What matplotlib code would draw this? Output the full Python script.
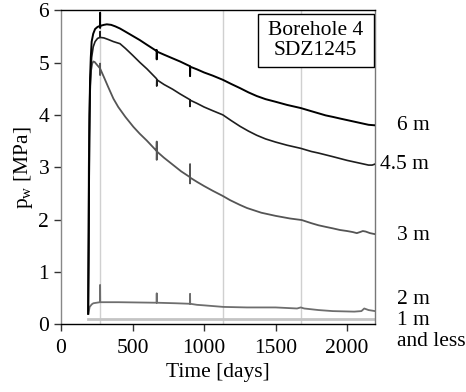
import matplotlib
matplotlib.use("Agg")
import matplotlib.pyplot as plt
from matplotlib.patches import Rectangle

plt.rcParams['font.family'] = ['Liberation Serif', 'DejaVu Serif']
plt.rcParams['mathtext.fontset'] = 'custom'
plt.rcParams['mathtext.rm'] = 'Liberation Serif'
plt.rcParams['mathtext.it'] = 'Liberation Serif:italic'

# ---- data (days, MPa) ----
days_6m = [190, 193, 196, 199, 203, 208, 214, 225, 238, 255, 272, 273, 273, 274, 300, 320, 350, 380, 412, 450,
           500, 550, 600, 668, 669, 669, 670, 720, 780, 832, 901, 902, 902, 903, 950, 1000, 1060, 1131, 1190,
           1252, 1310, 1368, 1430, 1500, 1580, 1676, 1750, 1800, 1850, 1902, 1950, 2000, 2050, 2100, 2150, 2196]
p_6m = [0.2, 1.5, 3.0, 4.0, 4.7, 5.1, 5.40, 5.55, 5.64, 5.68, 5.70, 5.95, 5.66, 5.70, 5.72, 5.73, 5.72, 5.69, 5.65, 5.59,
        5.51, 5.43, 5.34, 5.22, 5.24, 5.06, 5.21, 5.15, 5.08, 5.02, 4.93, 4.93, 4.74, 4.92, 4.87, 4.81, 4.75, 4.67, 4.59,
        4.51, 4.43, 4.36, 4.30, 4.25, 4.19, 4.13, 4.07, 4.03, 3.99, 3.96, 3.93, 3.90, 3.87, 3.84, 3.81, 3.80]

days_45m = [190, 193, 196, 199, 203, 208, 214, 225, 238, 255, 272, 273, 273, 274, 300, 330, 366, 412, 450, 500,
            552, 600, 668, 669, 669, 670, 720, 780, 832, 901, 902, 902, 903, 950, 1000, 1060, 1131, 1190, 1252,
            1310, 1368, 1430, 1500, 1580, 1676, 1750, 1800, 1902, 2000, 2050, 2100, 2150, 2175, 2196]
p_45m = [0.2, 1.2, 2.5, 3.6, 4.4, 4.85, 5.10, 5.30, 5.40, 5.46, 5.48, 5.59, 5.48, 5.48, 5.47, 5.44, 5.40, 5.36, 5.27, 5.14,
         5.00, 4.88, 4.69, 4.68, 4.55, 4.67, 4.58, 4.49, 4.40, 4.29, 4.28, 4.16, 4.28, 4.22, 4.15, 4.08, 4.00, 3.89, 3.78,
         3.69, 3.61, 3.54, 3.48, 3.42, 3.36, 3.30, 3.27, 3.20, 3.13, 3.10, 3.07, 3.04, 3.04, 3.06]

days_3m = [188, 191, 194, 198, 203, 210, 218, 226, 235, 250, 272, 273, 273, 274, 300, 330, 366, 400, 450, 506,
           550, 599, 668, 669, 669, 670, 720, 780, 840, 901, 902, 902, 903, 950, 1000, 1060, 1131, 1182, 1250,
           1300, 1400, 1500, 1600, 1683, 1750, 1800, 1850, 1902, 1950, 2000, 2040, 2068, 2090, 2110, 2130, 2160, 2196]
p_3m = [0.2, 1.5, 3.0, 4.0, 4.55, 4.85, 4.98, 5.02, 5.01, 4.96, 4.89, 4.98, 4.76, 4.88, 4.72, 4.53, 4.31, 4.15, 3.96, 3.77,
        3.64, 3.51, 3.31, 3.49, 3.14, 3.30, 3.18, 3.05, 2.92, 2.81, 3.06, 2.69, 2.80, 2.72, 2.64, 2.55, 2.45, 2.37, 2.28,
        2.22, 2.13, 2.07, 2.02, 1.99, 1.93, 1.89, 1.86, 1.83, 1.80, 1.78, 1.76, 1.74, 1.76, 1.78, 1.77, 1.74, 1.72]

days_2m = [191, 200, 215, 226, 272, 273, 274, 400, 668, 669, 670, 800, 901, 902, 903, 950, 1000, 1135, 1300, 1500,
           1650, 1676, 1700, 1800, 1900, 2050, 2100, 2120, 2150, 2196]
p_2m = [0.2, 0.33, 0.38, 0.40, 0.42, 0.75, 0.42, 0.42, 0.41, 0.59, 0.41, 0.40, 0.39, 0.58, 0.39, 0.37, 0.36, 0.33, 0.32, 0.32,
        0.30, 0.32, 0.30, 0.27, 0.25, 0.24, 0.25, 0.30, 0.27, 0.25]

days_1m = [190, 2196]
p_1m = [0.1, 0.1]

event_days = [273, 1131, 1676]

series_labels = ["6 m", "4.5 m", "3 m", "2 m", "1 m", "and less"]
label_y = [3.80, 3.06, 1.70, 0.48, 0.07, -0.33]
label_x = [1.07, 1.016, 1.07, 1.07, 1.07, 1.07]

xticks = [0, 500, 1000, 1500, 2000]
yticks = [0, 1, 2, 3, 4, 5, 6]

fig = plt.figure(figsize=(4.66, 3.92), dpi=100)
ax = fig.add_axes([0.131, 0.173, 0.674, 0.801])

for d in event_days:
    ax.axvline(d, color='#d0d0d0', lw=1.0, zorder=1)

ax.plot(days_1m, p_1m, color='#c4c4c4', lw=2.0, zorder=2)
ax.plot(days_2m, p_2m, color='#6e6e6e', lw=1.3, zorder=3)
ax.plot(days_3m, p_3m, color='#555555', lw=1.3, zorder=3)
ax.plot(days_45m, p_45m, color='#1e1e1e', lw=1.2, zorder=4)
ax.plot(days_6m, p_6m, color='#000000', lw=1.4, zorder=5)

ax.set_xlim(0, 2196)
ax.set_ylim(0, 6)
ax.set_xticks(xticks)
ax.set_yticks(yticks)
ax.tick_params(labelsize=15.5, direction='out', length=5, width=1, color='#333333')
ax.tick_params(axis='x', pad=5.5)
ax.spines['top'].set_color('black')
ax.spines['bottom'].set_color('black')
ax.spines['left'].set_color('#888888')
ax.spines['right'].set_color('#777777')
for s in ax.spines.values():
    s.set_linewidth(1.0)

ax.set_xlabel('Time [days]', fontsize=15.5, labelpad=4)
ax.set_ylabel(r'p$_\mathrm{w}$ [MPa]', fontsize=15.5, labelpad=2.5)

for txt, xx, yy in zip(series_labels, label_x, label_y):
    ax.text(xx, yy, txt, transform=ax.get_yaxis_transform(), fontsize=15.5,
            ha='left', va='center', clip_on=False)

ax.add_patch(Rectangle((0.627, 0.818), 0.368, 0.170, transform=ax.transAxes,
                       fill=True, facecolor='white', edgecolor='black', lw=1.0, zorder=6))
ax.text(0.811, 0.903, 'Borehole 4\nSDZ1245', transform=ax.transAxes, fontsize=15.5,
        ha='center', va='center', linespacing=1.05, zorder=7)

fig.savefig('out.png', dpi=100)
